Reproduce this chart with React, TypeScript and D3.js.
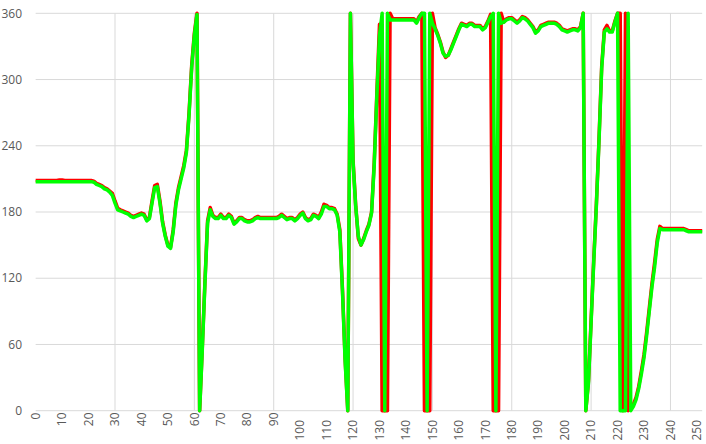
import React from "react";
import * as d3 from "d3";

const xTicks: number[] = [0,10,20,30,40,50,60,70,80,90,100,110,120,130,140,150,160,170,180,190,200,210,220,230,240,250];
const xGrid: number[] = [30,60,90,120,150,180,210,240];
const yTicks: number[] = [0,60,120,180,240,300,360];

const greenSeries: number[] = [
207.5,207.5,207.5,207.5,207.5,207.5,207.5,207.5,207.5,207.5,
207.5,207.5,207.5,207.5,207.5,207.5,207.5,207.5,207.5,207.5,
207.5,207.5,207,205,204,203,201,200,198,195,
188,182,181,180,179,178,176,175,176,177,
178,177,172,174,188,202,203,188,170,158,
149,147,162,186,200,210,220,234,268,311,
340,359,0,55,115,170,182,176,174,174,
177,174,174,177,175,169,171,174,174,172,
171,171,172,174,175,174,174,174,174,174,
174,174,175,177,175,173,174,174,172,174,
177,179,174,172,173,177,176,174,178,185,
185,183,183,182,177,162,108,45,0,360,
225,185,158,150,155,162,168,179,222,285,
340,360,0,360,354,354,354,354,354,354,
354,354,354,354,351,356,360,360,0,360,
351,346,340,333,324,321,322,327,333,339,
345,350,349,348,350,350,348,348,348,345,
347,352,357,360,0,360,351,352,354,355,
355,353,351,353,356,355,353,350,347,342,
344,348,349,350,351,351,351,350,348,345,
344,343,344,345,345,344,347,360,0,25,
80,135,186,245,310,343,346,343,343,352,
360,0,0,0,360,0,4,10,20,33,
48,68,90,112,130,152,165,164,164,164,
164,164,164,164,164,164,163,162,162,162,
162,162,162
];

const redSeries: number[] = [
208.5,208.5,208.5,208.5,208.5,208.5,208.5,208.5,208.5,209,
209,208.5,208.5,208.5,208.5,208.5,208.5,208.5,208.5,208.5,
208.5,208.5,208,206,205,204,202,201,199,197,
190,183.5,182,181,180,179,177,176,177,178,
179,178,173,175,190,204,205,190,171,159,
150,148,164,188,202,212,222,236,270,313,
342,360,0,57,117,172,184,177,175,175,
178,175,175,178,176,170,172,175,175,173,
172,172,173,175,176,175,175,175,175,175,
175,175,176,178,176,174,175,175,173,175,
178,180,175,173,174,178,177,175,180,187,
186,184,184,183,178,164,110,47,0,360,
227,186,156,150,156,163,169,180,225,288,
350,0,0,0,360,355,355,355,355,355,
355,355,355,355,352,357,360,0,0,0,
360,347,341,334,325,320,322,328,334,340,
346,351,350,349,351,351,349,349,349,346,
348,353,359,0,0,0,360,352,355,356,
356,354,352,354,357,356,354,351,348,343,
345,349,350,351,352,352,352,351,349,346,
345,344,345,346,346,345,348,360,0,27,
82,137,188,247,312,345,349,344,344,353,
360,360,0,360,0,2,6,12,22,36,
51,71,93,115,134,155,167,165,165,165,
165,165,165,165,165,165,164,163,163,163,
163,163,163
];

const W = 706;
const H = 444;
const FONT = "'Open Sans', 'Noto Sans', sans-serif";

export default function App() {
  const x = d3.scaleLinear().domain([0, 252]).range([35.65, 702.2]);
  const y = d3.scaleLinear().domain([0, 360]).range([410.7, 13.3]);
  const line = d3
    .line<number>()
    .x((_, i) => x(i))
    .y((d) => y(d));

  return (
    <svg
      width={W}
      height={H}
      style={{ position: "absolute", left: 0, top: 0, background: "#fff" }}
      fontFamily={FONT}
    >
      <rect x={0} y={0} width={W} height={H} fill="#fff" />
      {yTicks.map((t) => (
        <line key={"hy" + t} x1={x(0)} x2={x(252)} y1={y(t)} y2={y(t)} stroke="#d9d9d9" strokeWidth={1} />
      ))}
      {xGrid.map((t) => (
        <line key={"gx" + t} x1={x(t)} x2={x(t)} y1={y(0)} y2={y(360)} stroke="#d9d9d9" strokeWidth={1} />
      ))}
      {yTicks.map((t) => (
        <text key={"ty" + t} x={22} y={y(t)} dy="0.35em" textAnchor="end" fontSize={12} fill="#595959">
          {t}
        </text>
      ))}
      {xTicks.map((t) => (
        <text
          key={"tx" + t}
          transform={`translate(${x(t)},${t >= 100 ? 420 : 412.5}) rotate(-90)`}
          dy="0.35em"
          textAnchor="end"
          fontSize={12}
          fill="#595959"
        >
          {t}
        </text>
      ))}
      <path d={line(redSeries) || ""} fill="none" stroke="#ff0000" strokeWidth={3.5} strokeLinejoin="round" />
      <path d={line(greenSeries) || ""} fill="none" stroke="#00ff00" strokeWidth={3.5} strokeLinejoin="round" />
    </svg>
  );
}
